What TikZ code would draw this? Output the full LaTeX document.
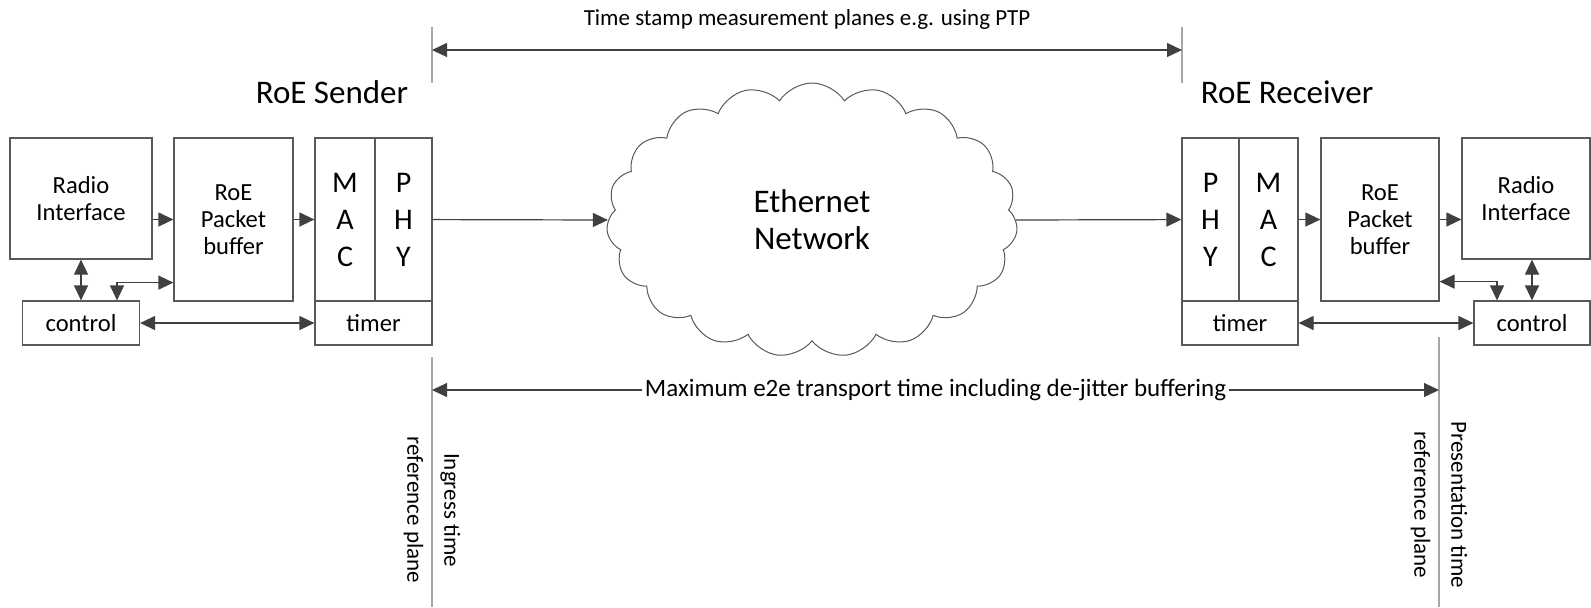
\documentclass[tikz,border=0pt]{standalone}
\usepackage{fontspec}
\setmainfont{Carlito}
\usetikzlibrary{arrows.meta,shapes.symbols}
\newcommand{\boxcolor}{black!65}
\newcommand{\arrowcolor}{black!75}
\newcommand{\planecolor}{black!35}
\newcommand{\thickness}{0.6pt}

\begin{document}
\begin{tikzpicture}[x=0.5pt,y=-0.5pt,
  block/.style={draw=\boxcolor,line width=\thickness,align=center,inner sep=0pt,font=\fontsize{12.3}{13.5}\selectfont},
  layer/.style={block,font=\fontsize{15}{18.5}\selectfont},
  conn/.style={draw=\arrowcolor,line width=\thickness,-{Triangle[length=7.5pt,width=7pt]}},
  bothconn/.style={conn,{Triangle[length=7.5pt,width=7pt]}-{Triangle[length=7.5pt,width=7pt]}},
  plane/.style={draw=\planecolor,line width=0.8pt},
  title/.style={font=\fontsize{16.5}{18}\selectfont},
  note/.style={font=\fontsize{11.5}{13.5}\selectfont},
  planelabel/.style={rotate=-90,align=center,font=\fontsize{11.5}{18.5}\selectfont}]
\useasboundingbox (0,0) rectangle (1591,607);
%sender
\node[title] (sender) at (332,92) {RoE Sender};
\node[block,minimum width=71pt,minimum height=60.5pt] (radioL) at (81,198.5) {Radio\\Interface};
\node[block,minimum width=59.5pt,minimum height=81.5pt] (bufL) at (233.5,219.5) {RoE\\Packet\\buffer};
\node[layer,minimum width=30pt,minimum height=81.5pt] (macL) at (345,219.5) {M\\A\\C};
\node[layer,minimum width=28.5pt,minimum height=81.5pt] (phyL) at (403.5,219.5) {P\\H\\Y};
\node[block,minimum width=58.5pt,minimum height=22pt] (timerL) at (373.5,323) {timer};
\node[block,minimum width=58.5pt,minimum height=22pt] (ctrlL) at (81,323) {control};
\draw[conn] (radioL.east |- bufL.west) -- (bufL.west);
\draw[conn] (bufL) -- (macL);
\draw[bothconn] (radioL) -- (ctrlL);
\draw[bothconn] ([xshift=18pt]ctrlL.north) |- ([yshift=9.5pt]bufL.south west);
\draw[bothconn] (ctrlL) -- (timerL);
%network
\node[draw=\boxcolor,line width=0.5pt,cloud,cloud puffs=19,cloud puff arc=115,cloud ignores aspect,minimum width=205.5pt,minimum height=137pt,align=center,font=\fontsize{16.5}{18.5}\selectfont] (net) at (812,220) {Ethernet\\Network};
\draw[conn] (phyL) -- (net.west);
%receiver
\node[title] (receiver) at (1287,92) {RoE Receiver};
\node[layer,minimum width=28.5pt,minimum height=81.5pt] (phyR) at (1210.5,219.5) {P\\H\\Y};
\node[layer,minimum width=29.5pt,minimum height=81.5pt] (macR) at (1268.5,219.5) {M\\A\\C};
\node[block,minimum width=58pt,minimum height=22pt] (timerR) at (1240,323) {timer};
\node[block,minimum width=59pt,minimum height=81.5pt] (bufR) at (1380,219.5) {RoE\\Packet\\buffer};
\node[block,minimum width=64pt,minimum height=60.5pt] (radioR) at (1526,198.5) {Radio\\Interface};
\node[block,minimum width=58pt,minimum height=22pt] (ctrlR) at (1532,323) {control};
\draw[conn] (net.east) -- (phyR);
\draw[conn] (macR) -- (bufR);
\draw[conn] (bufR.east) -- (radioR.west |- bufR.east);
\draw[bothconn] (ctrlR.north) -- (ctrlR.north |- radioR.south);
\draw[bothconn] ([yshift=10pt]bufR.south east) -| ([xshift=-17.5pt]ctrlR.north);
\draw[bothconn] (timerR) -- (ctrlR);
%time stamp planes
\coordinate (tsL) at (432,50);
\coordinate (tsR) at (1182,50);
\draw[plane] (432,27) -- (432,83);
\draw[plane] (1182,27) -- (1182,83);
\draw[bothconn] (tsL) -- (tsR);
\node[note] (tstext) at (807,19) {Time stamp measurement planes e.g. using PTP};
%reference planes
\coordinate (e2eL) at (432,390);
\coordinate (e2eR) at (1439,390);
\draw[plane] (432,357) -- (432,607);
\draw[plane] (1439,337) -- (1439,607);
\draw[bothconn] (e2eL) -- node[fill=white,inner sep=1.5pt,font=\fontsize{12.5}{13.5}\selectfont] (e2etext) {Maximum e2e transport time including de-jitter buffering} (e2eR);
\node[planelabel] (ingress) at (432,510) {Ingress time\\reference plane};
\node[planelabel] (present) at (1439,505) {Presentation time\\reference plane};
\end{tikzpicture}
\end{document}
